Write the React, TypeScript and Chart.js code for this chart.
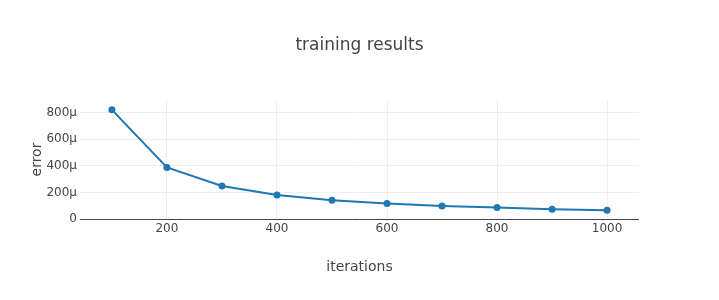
import React, { useEffect, useRef } from "react";
import { Chart, registerables } from "chart.js";

Chart.register(...registerables);

const iterations = [100, 200, 300, 400, 500, 600, 700, 800, 900, 1000];
const errorValues = [0.000822, 0.000388, 0.000249, 0.000181, 0.000141, 0.000116, 0.000098, 0.000086, 0.000074, 0.000066];
const xTicks = [200, 400, 600, 800, 1000];
const yTicks = [0, 0.0002, 0.0004, 0.0006, 0.0008];

const FONT = '"DejaVu Sans", verdana, arial, sans-serif';

export default function App() {
  const ref = useRef<HTMLCanvasElement>(null);
  useEffect(() => {
    if (!ref.current) return;
    Chart.defaults.font.family = FONT;
    const chart = new Chart(ref.current, {
      type: "line",
      data: {
        datasets: [
          {
            data: iterations.map((x, i) => ({ x, y: errorValues[i] })),
            borderColor: "#1f77b4",
            backgroundColor: "#1f77b4",
            borderWidth: 2,
            pointRadius: 3.5,
            pointHoverRadius: 3.5,
            pointBorderWidth: 0,
            tension: 0,
          },
        ],
      },
      options: {
        responsive: false,
        animation: false,
        layout: { padding: 0 },
        plugins: {
          legend: { display: false },
          tooltip: { enabled: false },
          title: {
            display: true,
            text: "training results",
            color: "#444",
            font: { size: 17, weight: "normal", family: FONT },
            padding: { top: 35, bottom: 44.6 },
          },
        },
        scales: {
          x: {
            type: "linear",
            min: 42,
            max: 1058,
            afterFit: (s: any) => {
              s.height = 81;
            },
            afterBuildTicks: (s: any) => {
              s.ticks = xTicks.map((v) => ({ value: v }));
            },
            border: { display: false },
            grid: { color: "#eee", lineWidth: 1, drawTicks: false },
            ticks: {
              color: "#444",
              font: { size: 12 },
              padding: 3,
              maxRotation: 0,
              callback: (v: any) => String(v),
            },
            title: {
              display: true,
              text: "iterations",
              color: "#444",
              font: { size: 14 },
              padding: { top: 0, bottom: 24.6 },
            },
          },
          y: {
            type: "linear",
            min: 0,
            max: 0.000896,
            afterFit: (s: any) => {
              s.width = 80;
            },
            afterBuildTicks: (s: any) => {
              s.ticks = yTicks.map((v) => ({ value: v }));
            },
            border: { display: false },
            grid: {
              color: (c: any) => (c.tick && c.tick.value === 0 ? "#444" : "#eee"),
              lineWidth: 1,
              drawTicks: false,
            },
            ticks: {
              color: "#444",
              font: { size: 12 },
              padding: 3,
              callback: (v: any) => (v === 0 ? "0" : Math.round(Number(v) * 1e6) + "µ"),
            },
            title: {
              display: true,
              text: "error",
              color: "#444",
              font: { size: 14 },
              padding: { top: 28.6, bottom: 0 },
            },
          },
          yRightSpace: {
            type: "linear",
            position: "right",
            display: true,
            min: 0,
            max: 1,
            afterFit: (s: any) => {
              s.width = 80;
            },
            border: { display: false },
            grid: { display: false, drawTicks: false },
            ticks: { display: false },
            title: { display: false },
          },
        },
      },
    });
    return () => chart.destroy();
  }, []);
  return (
    <div style={{ position: "fixed", left: 0, top: 0, width: 719, height: 300, background: "#fff" }}>
      <canvas ref={ref} width={719} height={300} style={{ display: "block" }} />
    </div>
  );
}
